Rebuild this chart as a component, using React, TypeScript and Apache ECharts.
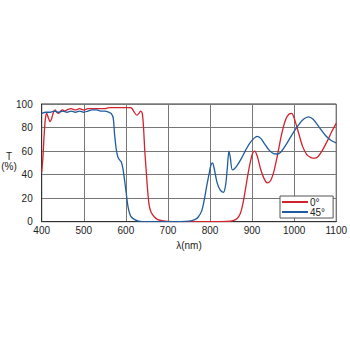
import React, { useEffect, useRef } from "react";
import * as echarts from "echarts";

const xTicks = [400, 500, 600, 700, 800, 900, 1000, 1100];
const yTicks = [0, 20, 40, 60, 80, 100];
const seriesNames = ["0°", "45°"];

const redWl = [400, 403, 406, 409, 412, 416, 420, 424, 428, 432, 436, 440, 445, 450, 455, 460, 470, 480, 490, 500, 510, 520, 530, 540, 550, 560, 570, 580, 590, 600, 610, 615, 620, 626, 631, 635, 639, 642, 645, 648, 651, 655, 660, 668, 675, 685, 700, 750, 800, 840, 855, 865, 872, 878, 884, 890, 896, 901, 906, 912, 920, 928, 936, 944, 952, 960, 970, 980, 988, 994, 1000, 1010, 1020, 1030, 1040, 1048, 1056, 1066, 1078, 1090, 1100];
const redT = [42, 55, 75, 88, 92, 88, 85, 88, 93, 95, 93, 92, 94, 95, 94, 95, 96, 95, 96, 95, 96, 96, 96, 96, 96, 97, 97, 97, 97, 97, 97, 96, 93, 90.5, 92, 94, 92, 80, 60, 45, 30, 15, 8, 4, 2, 1, 0.3, 0, 0, 0.2, 1, 3, 7, 15, 27, 40, 51, 58, 60, 56, 45, 37, 33, 35, 43, 56, 74, 87, 91.5, 92, 88, 76, 64, 57, 54.5, 54, 55, 60, 68, 77, 83.5];

const blueWl = [400, 410, 420, 430, 440, 450, 460, 470, 480, 490, 500, 510, 520, 530, 540, 550, 560, 565, 570, 573, 577, 581, 585, 589, 593, 597, 601, 605, 609, 613, 620, 630, 650, 700, 750, 765, 772, 780, 786, 792, 798, 802, 806, 810, 817, 824, 832, 837, 841, 845, 848, 853, 858, 865, 875, 885, 895, 905, 912, 920, 930, 940, 950, 959, 968, 980, 995, 1010, 1022, 1034, 1045, 1060, 1075, 1088, 1100];
const blueT = [92, 93, 93, 94, 93, 94, 93, 94, 93, 94, 93, 94, 95, 95, 94, 94, 93, 92, 88, 75, 62, 55, 52.5, 51, 45, 35, 24, 13, 7, 4, 2, 0.5, 0, 0, 0.5, 2, 4, 9, 18, 30, 41, 48, 50, 45, 33, 27, 25, 31, 45, 60, 55, 44, 45, 48, 54, 61, 67, 71, 72.5, 71, 66, 61, 58, 57.5, 59, 65, 74, 82, 87, 89, 87, 80, 73, 69, 67];

export default function App() {
  const ref = useRef<HTMLDivElement>(null);
  useEffect(() => {
    if (!ref.current) return;
    const chart = echarts.init(ref.current, null, { renderer: "svg" });
    const font = "Liberation Sans, Arial, sans-serif";
    chart.setOption({
      animation: false,
      backgroundColor: "#fff",
      textStyle: { fontFamily: font },
      grid: { left: 41.7, right: 12.3, top: 104, bottom: 128.3, show: true, borderColor: "#333", borderWidth: 1 },
      xAxis: {
        type: "value",
        min: xTicks[0],
        max: xTicks[xTicks.length - 1],
        interval: 100,
        name: "λ(nm)",
        nameLocation: "middle",
        nameGap: 19,
        nameTextStyle: { fontSize: 10, color: "#222", fontFamily: font },
        axisLine: { show: true, lineStyle: { color: "#333" } },
        axisTick: { show: false },
        axisLabel: { fontSize: 10, color: "#222", margin: 4, fontFamily: font, formatter: (v: number) => String(v) },
        splitLine: { show: true, lineStyle: { color: "#777", width: 1 } },
      },
      yAxis: {
        type: "value",
        min: yTicks[0],
        max: yTicks[yTicks.length - 1],
        interval: 20,
        axisLine: { show: true, lineStyle: { color: "#333" } },
        axisTick: { show: false },
        axisLabel: { fontSize: 10, color: "#222", margin: 9, fontFamily: font, formatter: (v: number) => String(v) },
        splitLine: { show: true, lineStyle: { color: "#777", width: 1 } },
      },
      legend: {
        orient: "vertical",
        left: 280,
        top: 196,
        icon: "rect",
        itemWidth: 26,
        itemHeight: 2,
        itemGap: 0,
        padding: [1, 8, 1, 2],
        borderColor: "#555",
        borderWidth: 1,
        borderRadius: 0,
        backgroundColor: "#fff",
        textStyle: { fontSize: 10, lineHeight: 9, color: "#222", fontFamily: font, padding: [0, 0, 0, -3] },
        data: seriesNames,
      },
      graphic: [
        {
          type: "text",
          x: 9,
          y: 151,
          style: { text: "T\n(%)", fill: "#222", font: "10px " + font, lineHeight: 10, align: "center" },
        },
      ],
      series: [
        {
          name: seriesNames[0],
          type: "line",
          data: redWl.map((w, i) => [w, redT[i]]),
          smooth: 0.3,
          symbol: "none",
          lineStyle: { color: "#d2222d", width: 1.3 },
          itemStyle: { color: "#d2222d" },
          z: 3,
        },
        {
          name: seriesNames[1],
          type: "line",
          data: blueWl.map((w, i) => [w, blueT[i]]),
          smooth: 0.3,
          symbol: "none",
          lineStyle: { color: "#1f5c9e", width: 1.3 },
          itemStyle: { color: "#1f5c9e" },
          z: 4,
        },
      ],
    });
    return () => chart.dispose();
  }, []);
  return <div ref={ref} style={{ position: "fixed", left: 0, top: 0, width: 350, height: 350 }} />;
}
